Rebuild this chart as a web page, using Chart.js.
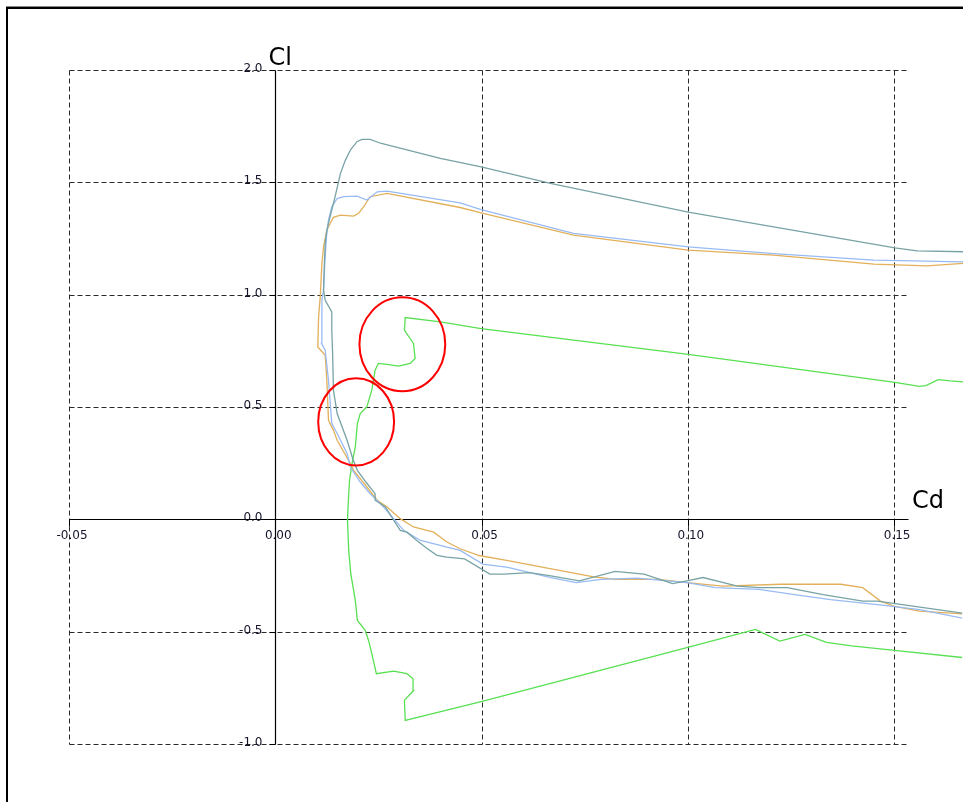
<!DOCTYPE html>
<html>
<head>
<meta charset="utf-8">
<script src="https://cdn.jsdelivr.net/npm/chart.js@4.4.1/dist/chart.umd.min.js"></script>
<style>
  html, body { margin: 0; padding: 0; background: #fff; overflow: hidden; }
  canvas { display: block; }
</style>
</head>
<body>
<canvas id="polar" width="963" height="802"></canvas>
<script>
// Axis ticks
const xTickValues = [-0.05, 0.00, 0.05, 0.10, 0.15];
const xTickLabels = ['-0.05', '0.00', '0.05', '0.10', '0.15'];
const yTickValues = [-1.0, -0.5, 0.0, 0.5, 1.0, 1.5, 2.0];
const yTickLabels = ['-1.0', '-0.5', '0.0', '0.5', '1.0', '1.5', '2.0'];

// Polar 1 (teal)
const tealCd = [0.1665,0.1520,0.1459,0.1424,0.1328,0.1241,0.1172,0.1120,0.1037,0.0998,0.0963,0.0894,0.0824,0.0737,0.0668,0.0616,0.0555,0.0520,0.0459,0.0416,0.0392,0.0368,0.0343,0.0319,0.0303,0.0287,0.0267,0.0242,0.0242,0.0220,0.0199,0.0189,0.0174,0.0150,0.0141,0.0139,0.0137,0.0137,0.0121,0.0117,0.0119,0.0121,0.0125,0.0133,0.0145,0.0158,0.0170,0.0182,0.0198,0.0210,0.0230,0.0255,0.0400,0.0499,0.0667,0.1001,0.1208,0.1502,0.1556,0.1668];
const tealCl = [-0.417,-0.380,-0.364,-0.364,-0.335,-0.304,-0.304,-0.297,-0.259,-0.274,-0.286,-0.244,-0.232,-0.274,-0.252,-0.237,-0.244,-0.244,-0.176,-0.168,-0.160,-0.130,-0.094,-0.057,-0.049,-0.004,0.055,0.085,0.114,0.165,0.218,0.263,0.352,0.471,0.575,0.738,0.842,0.923,0.975,1.020,1.139,1.229,1.287,1.347,1.436,1.540,1.599,1.644,1.681,1.691,1.691,1.674,1.607,1.569,1.495,1.367,1.302,1.208,1.195,1.191];

// Polar 2 (light blue)
const blueCd = [0.1665,0.1562,0.1476,0.1346,0.1259,0.1172,0.1067,0.0998,0.0877,0.0790,0.0729,0.0668,0.0564,0.0503,0.0448,0.0416,0.0400,0.0352,0.0311,0.0287,0.0255,0.0230,0.0206,0.0182,0.0174,0.0150,0.0137,0.0129,0.0121,0.0112,0.0113,0.0117,0.0120,0.0124,0.0129,0.0137,0.0150,0.0166,0.0198,0.0222,0.0247,0.0271,0.0448,0.0499,0.0723,0.1001,0.1208,0.1451,0.1668];
const blueCl = [-0.440,-0.402,-0.383,-0.357,-0.335,-0.312,-0.304,-0.282,-0.262,-0.267,-0.282,-0.259,-0.214,-0.199,-0.138,-0.124,-0.116,-0.094,-0.049,0.003,0.070,0.114,0.166,0.233,0.293,0.382,0.426,0.619,0.753,0.783,0.975,1.020,1.139,1.257,1.332,1.391,1.428,1.436,1.439,1.421,1.458,1.461,1.409,1.379,1.273,1.213,1.183,1.154,1.146];

// Polar 3 (orange)
const orangeCd = [0.1665,0.1562,0.1501,0.1467,0.1424,0.1371,0.1224,0.1085,0.0998,0.0928,0.0824,0.0772,0.0650,0.0564,0.0494,0.0448,0.0416,0.0384,0.0335,0.0303,0.0271,0.0247,0.0222,0.0190,0.0182,0.0150,0.0141,0.0129,0.0125,0.0121,0.0103,0.0105,0.0109,0.0113,0.0117,0.0125,0.0133,0.0141,0.0158,0.0190,0.0202,0.0214,0.0230,0.0271,0.0448,0.0499,0.0723,0.1001,0.1208,0.1451,0.1580,0.1668];
const orangeCl = [-0.421,-0.409,-0.387,-0.364,-0.304,-0.289,-0.289,-0.297,-0.282,-0.267,-0.267,-0.256,-0.214,-0.184,-0.161,-0.131,-0.101,-0.057,-0.034,0.003,0.055,0.085,0.144,0.218,0.248,0.352,0.396,0.441,0.619,0.730,0.767,0.901,0.990,1.139,1.213,1.287,1.317,1.344,1.354,1.350,1.362,1.391,1.436,1.451,1.388,1.364,1.265,1.198,1.176,1.136,1.128,1.139];

// Polar 4 (green)
const greenCd = [0.1665,0.1501,0.1397,0.1336,0.1284,0.1223,0.1164,0.1000,0.0499,0.0315,0.0313,0.0335,0.0334,0.0319,0.0287,0.0245,0.0234,0.0226,0.0218,0.0199,0.0194,0.0183,0.0178,0.0175,0.0178,0.0180,0.0186,0.0194,0.0199,0.0206,0.0222,0.0234,0.0242,0.0250,0.0271,0.0299,0.0327,0.0339,0.0335,0.0313,0.0315,0.0400,0.0499,0.1001,0.1502,0.1561,0.1577,0.1607,0.1636,0.1668];
const greenCl = [-0.615,-0.583,-0.563,-0.548,-0.512,-0.542,-0.490,-0.570,-0.811,-0.895,-0.806,-0.762,-0.710,-0.687,-0.676,-0.687,-0.598,-0.539,-0.494,-0.450,-0.361,-0.242,-0.138,-0.004,0.114,0.174,0.248,0.322,0.426,0.471,0.500,0.575,0.664,0.694,0.690,0.682,0.694,0.716,0.783,0.842,0.898,0.879,0.849,0.734,0.610,0.592,0.595,0.622,0.616,0.612];

// Highlight rings around the kinks of the green polar (centre and half-axes in Cd / Cl units)
const ringCd = [0.0308, 0.0196];
const ringCl = [0.779, 0.434];
const ringHalfCd = [0.0104, 0.0092];
const ringHalfCl = [0.209, 0.194];

// View window and grid extent
const CD_MIN = -0.05, CD_MAX = 0.1667;
const CL_MIN = -1.0, CL_MAX = 2.0;
const GRID_CD_END = 0.1530;
const TICK_FONT = "12px 'DejaVu Sans', sans-serif";
const TITLE_FONT = "24px 'DejaVu Sans', sans-serif";

function toPoints(cd, cl) {
  return cd.map((v, i) => ({ x: v, y: cl[i] }));
}

const polarFrame = {
  id: 'polarFrame',
  beforeDraw(chart) {
    const { ctx, width, height } = chart;
    ctx.save();
    ctx.fillStyle = '#ffffff';
    ctx.fillRect(0, 0, width, height);
    ctx.fillStyle = '#8a8a8a';
    ctx.fillRect(6, 6, width - 6, 1);
    ctx.fillStyle = '#000000';
    ctx.fillRect(6, 7, width - 6, 2);
    ctx.fillRect(6, 7, 2, height - 7);
    ctx.restore();
  },
  beforeDatasetsDraw(chart) {
    const { ctx, scales: { x, y } } = chart;
    const left = Math.round(x.getPixelForValue(xTickValues[0])) + 0.5;
    const right = Math.round(x.getPixelForValue(GRID_CD_END)) + 0.5;
    const top = Math.round(y.getPixelForValue(yTickValues[yTickValues.length - 1])) + 0.5;
    const bottom = Math.round(y.getPixelForValue(yTickValues[0])) + 0.5;
    const x0 = Math.round(x.getPixelForValue(0)) + 0.5;
    const y0 = Math.round(y.getPixelForValue(0)) + 0.5;

    const seg = (ax, ay, bx, by) => { ctx.beginPath(); ctx.moveTo(ax, ay); ctx.lineTo(bx, by); ctx.stroke(); };

    ctx.save();
    // dashed grid
    ctx.lineWidth = 1;
    ctx.strokeStyle = '#2a2a2a';
    ctx.setLineDash([5, 3]);
    xTickValues.forEach(v => {
      if (v === 0) return;
      const px = Math.round(x.getPixelForValue(v)) + 0.5;
      seg(px, top, px, bottom);
    });
    yTickValues.forEach(v => {
      if (v === 0) return;
      const py = Math.round(y.getPixelForValue(v)) + 0.5;
      seg(left, py, right, py);
    });

    // axes through the origin
    ctx.setLineDash([]);
    ctx.strokeStyle = '#000000';
    ctx.lineWidth = 1.2;
    seg(left, y0, right + 2, y0);
    seg(x0, top, x0, bottom);

    // tick marks
    ctx.lineWidth = 1;
    xTickValues.forEach(v => {
      const px = Math.round(x.getPixelForValue(v)) + 0.5;
      seg(px, y0, px, y0 + 7);
    });
    yTickValues.forEach(v => {
      const py = Math.round(y.getPixelForValue(v)) + 0.5;
      seg(x0 - 6, py, x0, py);
    });

    // tick labels
    ctx.fillStyle = '#14142b';
    ctx.font = TICK_FONT;
    ctx.textBaseline = 'middle';
    ctx.textAlign = 'right';
    yTickValues.forEach((v, i) => {
      const py = y.getPixelForValue(v);
      ctx.fillText(yTickLabels[i], x0 - 13, py - 1);
    });
    ctx.textAlign = 'center';
    xTickValues.forEach((v, i) => {
      const px = x.getPixelForValue(v);
      ctx.fillText(xTickLabels[i], px + 3, y0 + 16);
    });

    // axis titles
    ctx.fillStyle = '#000000';
    ctx.font = TITLE_FONT;
    ctx.textAlign = 'left';
    ctx.textBaseline = 'alphabetic';
    ctx.fillText('Cl', x0 - 7, top - 6);
    ctx.fillText('Cd', x.getPixelForValue(0.15) + 18, y0 - 12);
    ctx.restore();
  },
  afterDatasetsDraw(chart) {
    const { ctx, scales: { x, y } } = chart;
    ctx.save();
    ctx.strokeStyle = '#ff0000';
    ctx.lineWidth = 2;
    ringCd.forEach((cd, i) => {
      const cx = x.getPixelForValue(cd);
      const cy = y.getPixelForValue(ringCl[i]);
      const rx = Math.abs(x.getPixelForValue(cd + ringHalfCd[i]) - cx);
      const ry = Math.abs(y.getPixelForValue(ringCl[i] + ringHalfCl[i]) - cy);
      ctx.beginPath();
      ctx.ellipse(cx, cy, rx, ry, 0, 0, Math.PI * 2);
      ctx.stroke();
    });
    ctx.restore();
  }
};

const lineStyle = { showLine: true, pointRadius: 0, pointHoverRadius: 0, borderWidth: 1.3, tension: 0, fill: false };

new Chart(document.getElementById('polar'), {
  type: 'scatter',
  data: {
    datasets: [
      Object.assign({ label: 'teal', data: toPoints(tealCd, tealCl), borderColor: '#78a3a5' }, lineStyle),
      Object.assign({ label: 'blue', data: toPoints(blueCd, blueCl), borderColor: '#98bbf3' }, lineStyle),
      Object.assign({ label: 'orange', data: toPoints(orangeCd, orangeCl), borderColor: '#e2b05a' }, lineStyle),
      Object.assign({ label: 'green', data: toPoints(greenCd, greenCl), borderColor: '#58e052' }, lineStyle)
    ]
  },
  options: {
    responsive: false,
    animation: false,
    devicePixelRatio: 1,
    layout: { padding: { left: 69, right: 0, top: 70, bottom: 58 } },
    plugins: { legend: { display: false }, tooltip: { enabled: false } },
    scales: {
      x: { type: 'linear', min: CD_MIN, max: CD_MAX, display: false },
      y: { type: 'linear', min: CL_MIN, max: CL_MAX, display: false }
    }
  },
  plugins: [polarFrame]
});
</script>
</body>
</html>
